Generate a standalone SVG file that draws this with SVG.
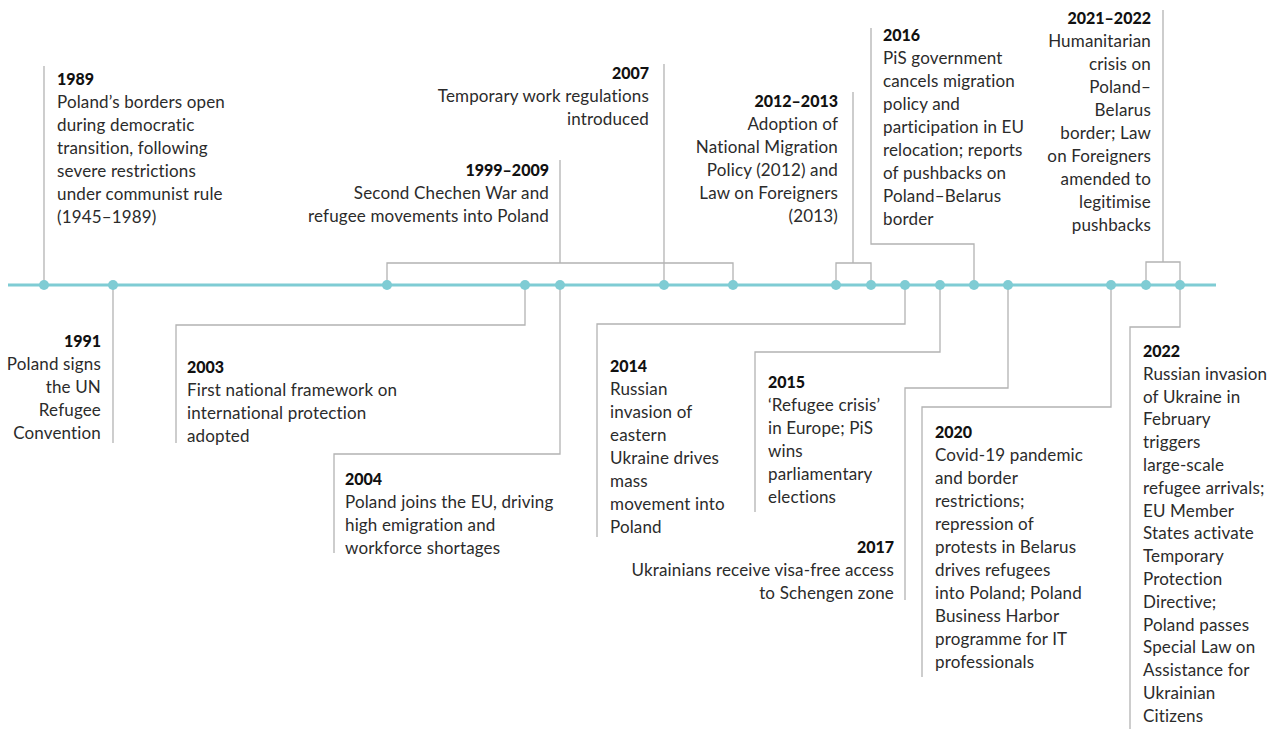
<svg xmlns="http://www.w3.org/2000/svg" width="1276" height="729" viewBox="0 0 1276 729">
<style>
.c{fill:none;stroke:#b3b3b3;stroke-width:1.3}
.ax{stroke:#7fccd4;stroke-width:3}
.d{fill:#7fccd4}
text{font-family:Lato,"Liberation Sans",sans-serif;font-size:17px;letter-spacing:0.15px;fill:#2b2b2b}
.y{font-weight:900;fill:#111;font-size:16px;letter-spacing:0}
.r{text-anchor:end}
</style>
<rect width="1276" height="729" fill="#fff"/>
<g id="connectors">
<path class="c" d="M44 285V66"/>
<path class="c" d="M113 285V443"/>
<path class="c" d="M387 285V263H733V285M560 263V160"/>
<path class="c" d="M525 285V325H176V443"/>
<path class="c" d="M560 285V454H334V553"/>
<path class="c" d="M664 285V64"/>
<path class="c" d="M836 285V263H871V285M853 263V92"/>
<path class="c" d="M905 285V324H597V537"/>
<path class="c" d="M940 285V352H755V512"/>
<path class="c" d="M974 285V244H871V28"/>
<path class="c" d="M1008 285V388H905V600"/>
<path class="c" d="M1111 285V407H922V677"/>
<path class="c" d="M1146 285V262H1180V285M1163 262V10"/>
<path class="c" d="M1180 285V327H1130V729"/>
</g>
<g id="axis">
<line class="ax" x1="8" y1="285" x2="1216" y2="285"/>
<circle class="d" cx="44" cy="285" r="5"/>
<circle class="d" cx="113" cy="285" r="5"/>
<circle class="d" cx="387" cy="285" r="5"/>
<circle class="d" cx="525" cy="285" r="5"/>
<circle class="d" cx="560" cy="285" r="5"/>
<circle class="d" cx="664" cy="285" r="5"/>
<circle class="d" cx="733" cy="285" r="5"/>
<circle class="d" cx="836" cy="285" r="5"/>
<circle class="d" cx="871" cy="285" r="5"/>
<circle class="d" cx="905" cy="285" r="5"/>
<circle class="d" cx="940" cy="285" r="5"/>
<circle class="d" cx="974" cy="285" r="5"/>
<circle class="d" cx="1008" cy="285" r="5"/>
<circle class="d" cx="1111" cy="285" r="5"/>
<circle class="d" cx="1146" cy="285" r="5"/>
<circle class="d" cx="1180" cy="285" r="5"/>
</g>
<g id="e1989">
<text x="57" y="85"><tspan class="y">1989</tspan><tspan x="57" dy="23">Poland’s borders open</tspan><tspan x="57" dy="23">during democratic</tspan><tspan x="57" dy="23">transition, following</tspan><tspan x="57" dy="23">severe restrictions</tspan><tspan x="57" dy="23">under communist rule</tspan><tspan x="57" dy="23">(1945–1989)</tspan></text>
</g>
<g id="e1991">
<text class="r" x="101" y="347"><tspan class="y">1991</tspan><tspan x="101" dy="23">Poland signs</tspan><tspan x="101" dy="23">the UN</tspan><tspan x="101" dy="23">Refugee</tspan><tspan x="101" dy="23">Convention</tspan></text>
</g>
<g id="e1999">
<text class="r" x="549" y="176"><tspan class="y">1999–2009</tspan><tspan x="549" dy="23">Second Chechen War and</tspan><tspan x="549" dy="23">refugee movements into Poland</tspan></text>
</g>
<g id="e2003">
<text x="187" y="373"><tspan class="y">2003</tspan><tspan x="187" dy="23">First national framework on</tspan><tspan x="187" dy="23">international protection</tspan><tspan x="187" dy="23">adopted</tspan></text>
</g>
<g id="e2004">
<text x="345" y="485"><tspan class="y">2004</tspan><tspan x="345" dy="23">Poland joins the EU, driving</tspan><tspan x="345" dy="23">high emigration and</tspan><tspan x="345" dy="23">workforce shortages</tspan></text>
</g>
<g id="e2007">
<text class="r" x="649" y="79"><tspan class="y">2007</tspan><tspan x="649" dy="23">Temporary work regulations</tspan><tspan x="649" dy="23">introduced</tspan></text>
</g>
<g id="e2012">
<text class="r" x="838" y="107"><tspan class="y">2012–2013</tspan><tspan x="838" dy="23">Adoption of</tspan><tspan x="838" dy="23">National Migration</tspan><tspan x="838" dy="23">Policy (2012) and</tspan><tspan x="838" dy="23">Law on Foreigners</tspan><tspan x="838" dy="23">(2013)</tspan></text>
</g>
<g id="e2014">
<text x="610" y="372"><tspan class="y">2014</tspan><tspan x="610" dy="23">Russian</tspan><tspan x="610" dy="23">invasion of</tspan><tspan x="610" dy="23">eastern</tspan><tspan x="610" dy="23">Ukraine drives</tspan><tspan x="610" dy="23">mass</tspan><tspan x="610" dy="23">movement into</tspan><tspan x="610" dy="23">Poland</tspan></text>
</g>
<g id="e2015">
<text x="768" y="388"><tspan class="y">2015</tspan><tspan x="768" dy="23">‘Refugee crisis’</tspan><tspan x="768" dy="23">in Europe; PiS</tspan><tspan x="768" dy="23">wins</tspan><tspan x="768" dy="23">parliamentary</tspan><tspan x="768" dy="23">elections</tspan></text>
</g>
<g id="e2016">
<text x="883" y="41"><tspan class="y">2016</tspan><tspan x="883" dy="23">PiS government</tspan><tspan x="883" dy="23">cancels migration</tspan><tspan x="883" dy="23">policy and</tspan><tspan x="883" dy="23">participation in EU</tspan><tspan x="883" dy="23">relocation; reports</tspan><tspan x="883" dy="23">of pushbacks on</tspan><tspan x="883" dy="23">Poland–Belarus</tspan><tspan x="883" dy="23">border</tspan></text>
</g>
<g id="e2017">
<text class="r" x="894" y="553"><tspan class="y">2017</tspan><tspan x="894" dy="23">Ukrainians receive visa-free access</tspan><tspan x="894" dy="23">to Schengen zone</tspan></text>
</g>
<g id="e2020">
<text x="935" y="438"><tspan class="y">2020</tspan><tspan x="935" dy="23">Covid-19 pandemic</tspan><tspan x="935" dy="23">and border</tspan><tspan x="935" dy="23">restrictions;</tspan><tspan x="935" dy="23">repression of</tspan><tspan x="935" dy="23">protests in Belarus</tspan><tspan x="935" dy="23">drives refugees</tspan><tspan x="935" dy="23">into Poland; Poland</tspan><tspan x="935" dy="23">Business Harbor</tspan><tspan x="935" dy="23">programme for IT</tspan><tspan x="935" dy="23">professionals</tspan></text>
</g>
<g id="e2021">
<text class="r" x="1151" y="24"><tspan class="y">2021–2022</tspan><tspan x="1151" dy="23">Humanitarian</tspan><tspan x="1151" dy="23">crisis on</tspan><tspan x="1151" dy="23">Poland–</tspan><tspan x="1151" dy="23">Belarus</tspan><tspan x="1151" dy="23">border; Law</tspan><tspan x="1151" dy="23">on Foreigners</tspan><tspan x="1151" dy="23">amended to</tspan><tspan x="1151" dy="23">legitimise</tspan><tspan x="1151" dy="23">pushbacks</tspan></text>
</g>
<g id="e2022">
<text x="1143" y="357" font-size="16.6"><tspan class="y">2022</tspan><tspan x="1143" dy="22.8">Russian invasion</tspan><tspan x="1143" dy="22.8">of Ukraine in</tspan><tspan x="1143" dy="22.8">February</tspan><tspan x="1143" dy="22.8">triggers</tspan><tspan x="1143" dy="22.8">large-scale</tspan><tspan x="1143" dy="22.8">refugee arrivals;</tspan><tspan x="1143" dy="22.8">EU Member</tspan><tspan x="1143" dy="22.8">States activate</tspan><tspan x="1143" dy="22.8">Temporary</tspan><tspan x="1143" dy="22.8">Protection</tspan><tspan x="1143" dy="22.8">Directive;</tspan><tspan x="1143" dy="22.8">Poland passes</tspan><tspan x="1143" dy="22.8">Special Law on</tspan><tspan x="1143" dy="22.8">Assistance for</tspan><tspan x="1143" dy="22.8">Ukrainian</tspan><tspan x="1143" dy="22.8">Citizens</tspan></text>
</g>
</svg>
